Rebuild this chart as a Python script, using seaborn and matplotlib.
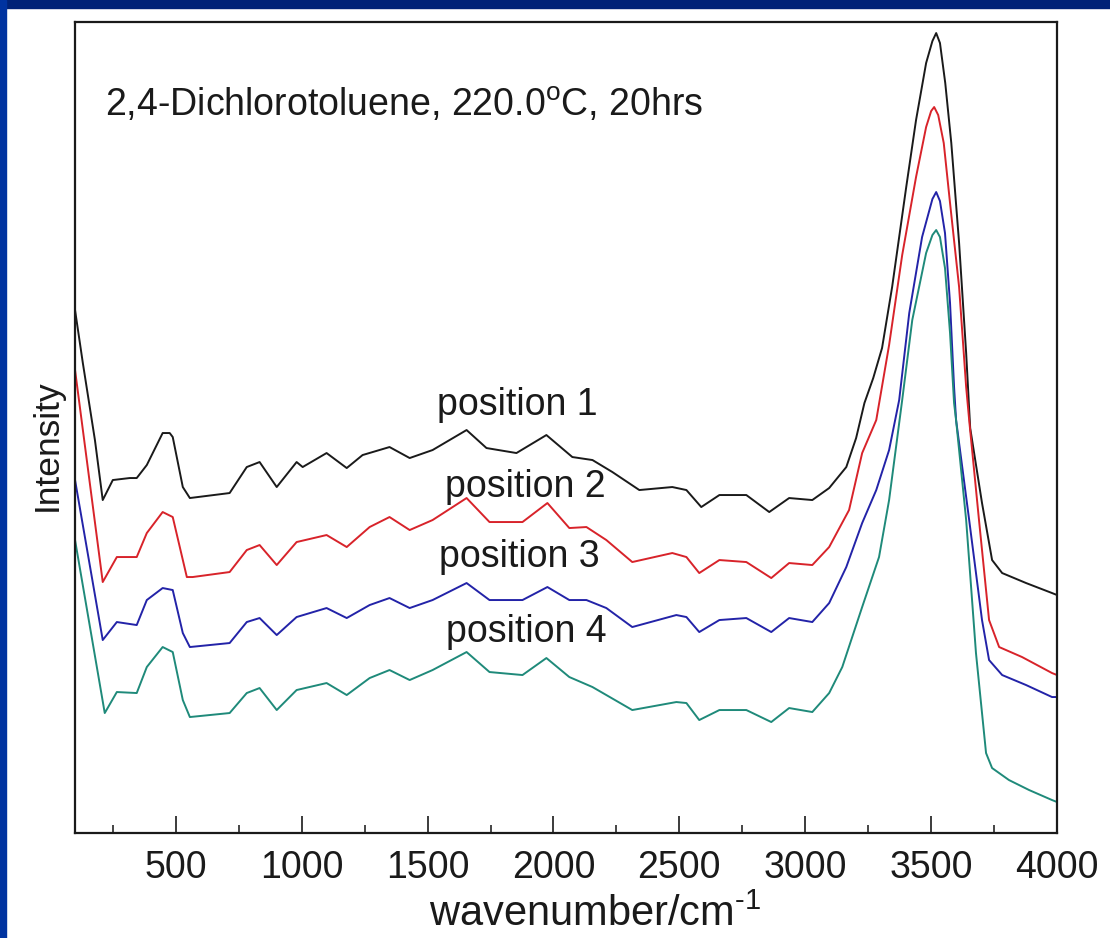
import matplotlib
matplotlib.use("Agg")
import matplotlib.pyplot as plt
from matplotlib.patches import Rectangle
from matplotlib.ticker import MultipleLocator
import seaborn as sns

# 读图得到的光谱数据 (波数 cm^-1, 强度 a.u.)
wn1 = [100, 131, 179, 210, 250, 317, 345, 385, 448, 476, 488, 528, 556, 714, 782, 833,
       901, 980, 1004, 1099, 1179, 1242, 1349, 1429, 1520, 1655, 1734, 1853, 1972, 2075,
       2155, 2234, 2341, 2472, 2528, 2587, 2659, 2766, 2857, 2936, 3028, 3095, 3163, 3202,
       3235, 3270, 3305, 3345, 3401, 3440, 3480, 3505, 3520, 3535, 3556, 3580, 3611, 3639,
       3655, 3702, 3742, 3782, 3877, 3980, 4000]
int1 = [523, 470, 393, 333, 353, 355, 355, 368, 400, 400, 396, 346, 335, 340, 366, 371,
        346, 371, 366, 380, 365, 378, 386, 375, 383, 403, 385, 380, 398, 376,
        373, 361, 343, 346, 343, 326, 338, 338, 321, 335, 333, 345, 366, 395,
        430, 455, 485, 546, 646, 713, 770, 792, 800, 790, 750, 690, 590, 480,
        405, 330, 273, 260, 250, 240, 238]

wn2 = [100, 210, 266, 345, 385, 448, 488, 544, 567, 714, 782, 833, 901, 980, 1099, 1179,
       1270, 1349, 1429, 1520, 1655, 1746, 1877, 1976, 2063, 2131, 2210, 2313, 2472, 2528,
       2579, 2659, 2766, 2865, 2936, 3028, 3095, 3174, 3226, 3282, 3333, 3385, 3440, 3480,
       3500, 3512, 3528, 3550, 3575, 3611, 3639, 3651, 3690, 3730, 3770, 3861, 3980, 4000]
int2 = [463, 251, 276, 276, 300, 321, 316, 256, 256, 261, 283, 288, 268, 291, 298, 286,
        306, 316, 303, 313, 335, 311, 311, 330, 305, 306, 293, 271, 280, 276,
        260, 273, 271, 255, 270, 268, 286, 323, 380, 413, 488, 578, 656, 706,
        722, 726, 718, 690, 630, 546, 446, 413, 313, 213, 186, 176, 160, 158]

wn3 = [100, 210, 266, 345, 385, 448, 488, 528, 556, 714, 782, 833, 901, 980, 1099, 1179,
       1270, 1349, 1429, 1520, 1655, 1746, 1877, 1976, 2063, 2131, 2210, 2313, 2488, 2528,
       2579, 2659, 2766, 2865, 2936, 3028, 3095, 3163, 3226, 3282, 3333, 3373, 3413, 3464,
       3505, 3520, 3535, 3555, 3575, 3591, 3599, 3651, 3702, 3730, 3782, 3877, 3980, 4000]
int3 = [353, 193, 211, 208, 233, 245, 243, 200, 186, 190, 211, 215, 198, 216, 225, 215,
        228, 235, 225, 233, 250, 233, 233, 246, 233, 233, 225, 206, 218, 216,
        201, 213, 215, 201, 215, 211, 230, 266, 310, 343, 383, 433, 520, 596,
        634, 641, 632, 600, 530, 446, 413, 313, 213, 173, 158, 148, 136, 136]

wn4 = [100, 218, 266, 345, 385, 448, 488, 528, 556, 714, 782, 833, 901, 980, 1099, 1179,
       1270, 1349, 1429, 1520, 1655, 1746, 1877, 1972, 2063, 2155, 2313, 2488, 2528, 2579,
       2659, 2766, 2865, 2936, 3028, 3095, 3147, 3226, 3293, 3333, 3385, 3425, 3480, 3505,
       3520, 3535, 3555, 3575, 3591, 3599, 3639, 3678, 3718, 3742, 3809, 3889, 3980, 4000]
int4 = [293, 120, 141, 140, 166, 186, 181, 133, 116, 120, 140, 145, 123, 143, 150, 138,
        155, 163, 153, 163, 181, 161, 158, 175, 156, 146, 123, 131, 130, 113,
        123, 123, 111, 125, 121, 140, 166, 226, 276, 333, 433, 513, 580, 598,
        603, 596, 565, 500, 430, 413, 313, 180, 80, 65, 53, 43, 33, 31]

labels = ["position 1", "position 2", "position 3", "position 4"]
label_x = [1857, 1889, 1865, 1893]
label_y = [428, 346, 276, 201]
colors = ["#1a1a1a", "#d8232a", "#2323a8", "#1f8a7a"]

sns.set_style("white")
plt.rcParams["font.family"] = ["Liberation Sans", "DejaVu Sans"]
plt.rcParams["mathtext.fontset"] = "custom"
plt.rcParams["mathtext.rm"] = "Liberation Sans"
plt.rcParams["mathtext.it"] = "Liberation Sans:italic"

fig = plt.figure(figsize=(11.1, 9.38), dpi=100)
ax = fig.add_axes([0.0676, 0.1119, 0.8847, 0.8646])

# 幻灯片的深蓝色边框
fig.patches.append(Rectangle((0, 1 - 8 / 938), 1, 8 / 938, transform=fig.transFigure,
                             color="#002277", zorder=0))
fig.patches.append(Rectangle((0, 0), 6 / 1110, 1, transform=fig.transFigure,
                             color="#0033a0", zorder=0))

for wn, inten, c in zip([wn1, wn2, wn3, wn4], [int1, int2, int3, int4], colors):
    sns.lineplot(x=wn, y=inten, color=c, linewidth=1.4, ax=ax)

for lab, lx, ly in zip(labels, label_x, label_y):
    ax.text(lx, ly, lab, ha="center", va="center", fontsize=27, color="#1a1a1a")

ax.text(218, 728, r"2,4-Dichlorotoluene, 220.0$^{\mathrm{o}}$C, 20hrs",
        ha="left", va="center", fontsize=27, color="#1a1a1a")

ax.set_xlim(100, 4000)
ax.set_ylim(0, 811)
ax.xaxis.set_minor_locator(MultipleLocator(250))
ax.set_xticks([500, 1000, 1500, 2000, 2500, 3000, 3500, 4000])
ax.set_yticks([])
ax.tick_params(axis="x", which="major", direction="in", length=12, width=1.2,
               labelsize=27, pad=12, colors="#1a1a1a", bottom=True)
ax.tick_params(axis="x", which="minor", direction="in", length=6, width=1.2, bottom=True)
for s in ax.spines.values():
    s.set_linewidth(1.6)
    s.set_color("#1a1a1a")

ax.set_xlabel(r"wavenumber/cm$^{\text{-}1}$", fontsize=30, color="#1a1a1a")
ax.xaxis.set_label_coords(0.53, -0.076)
ax.set_ylabel("Intensity", fontsize=25.5, color="#1a1a1a")
ax.yaxis.set_label_coords(-0.012, 0.478)

fig.savefig("out.png", dpi=100)
